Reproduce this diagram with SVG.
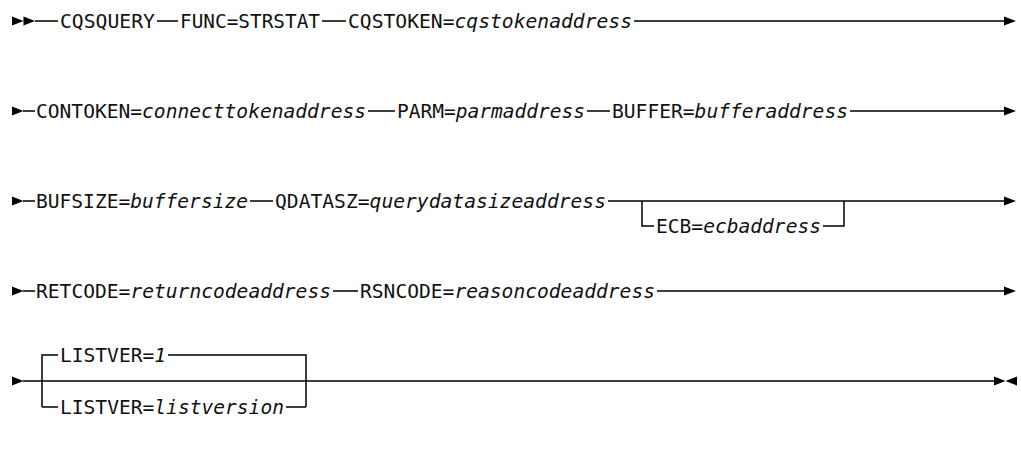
<svg xmlns="http://www.w3.org/2000/svg" width="1021" height="466" viewBox="0 0 1021 466">
<style>
.t{font-family:"DejaVu Sans Mono","Liberation Mono",monospace;font-size:19.6px;fill:#111}
.i{font-style:italic}
.l{stroke:#000;stroke-width:1.5;fill:none}
.a{fill:#000}
</style>
<rect width="1021" height="466" fill="#fff"/>
<g id="connectors">
<path class="l" d="M35 21H58M157 21H178M322 21H346M634 21H1005"/>
<path class="l" d="M23 111H35M368 111H395M587 111H610M850 111H1005"/>
<path class="l" d="M23 201H35M250 201H273M608 201H1005M642 201V226H654M823 226H844V201"/>
<path class="l" d="M23 291H35M333 291H358M657 291H1005"/>
<path class="l" d="M23 381H995M42 407V355H58M168 355H306V407M42 407H58M286 407H306"/>
<path class="a" d="M12 16.5L23.5 21L12 25.5ZM23.5 16.5L35 21L23.5 25.5Z"/>
<path class="a" d="M1004 16.5L1016 21L1004 25.5Z"/>
<path class="a" d="M12 106.5L23.5 111L12 115.5Z"/>
<path class="a" d="M1004 106.5L1016 111L1004 115.5Z"/>
<path class="a" d="M12 196.5L23.5 201L12 205.5Z"/>
<path class="a" d="M1004 196.5L1016 201L1004 205.5Z"/>
<path class="a" d="M12 286.5L23.5 291L12 295.5Z"/>
<path class="a" d="M1004 286.5L1016 291L1004 295.5Z"/>
<path class="a" d="M12 376.5L23.5 381L12 385.5Z"/>
<path class="a" d="M994 376.5L1005.5 381L994 385.5ZM1017 376.5L1005.5 381L1017 385.5Z"/>
</g>
<g id="n-cqsquery"><text class="t" x="60" y="28" textLength="95" lengthAdjust="spacingAndGlyphs">CQSQUERY</text></g>
<g id="n-func"><text class="t" x="180" y="28" textLength="140" lengthAdjust="spacingAndGlyphs">FUNC=STRSTAT</text></g>
<g id="n-cqstoken"><text class="t" x="348" y="28" textLength="284" lengthAdjust="spacingAndGlyphs">CQSTOKEN=<tspan class="i">cqstokenaddress</tspan></text></g>
<g id="n-contoken"><text class="t" x="36" y="118" textLength="330" lengthAdjust="spacingAndGlyphs">CONTOKEN=<tspan class="i">connecttokenaddress</tspan></text></g>
<g id="n-parm"><text class="t" x="397" y="118" textLength="188" lengthAdjust="spacingAndGlyphs">PARM=<tspan class="i">parmaddress</tspan></text></g>
<g id="n-buffer"><text class="t" x="612" y="118" textLength="236" lengthAdjust="spacingAndGlyphs">BUFFER=<tspan class="i">bufferaddress</tspan></text></g>
<g id="n-bufsize"><text class="t" x="36" y="208" textLength="212" lengthAdjust="spacingAndGlyphs">BUFSIZE=<tspan class="i">buffersize</tspan></text></g>
<g id="n-qdatasz"><text class="t" x="275" y="208" textLength="331" lengthAdjust="spacingAndGlyphs">QDATASZ=<tspan class="i">querydatasizeaddress</tspan></text></g>
<g id="n-ecb"><text class="t" x="656" y="233" textLength="165" lengthAdjust="spacingAndGlyphs">ECB=<tspan class="i">ecbaddress</tspan></text></g>
<g id="n-retcode"><text class="t" x="36" y="298" textLength="295" lengthAdjust="spacingAndGlyphs">RETCODE=<tspan class="i">returncodeaddress</tspan></text></g>
<g id="n-rsncode"><text class="t" x="360" y="298" textLength="295" lengthAdjust="spacingAndGlyphs">RSNCODE=<tspan class="i">reasoncodeaddress</tspan></text></g>
<g id="n-listver1"><text class="t" x="60" y="362" textLength="106" lengthAdjust="spacingAndGlyphs">LISTVER=<tspan class="i">1</tspan></text></g>
<g id="n-listver"><text class="t" x="60" y="414" textLength="224" lengthAdjust="spacingAndGlyphs">LISTVER=<tspan class="i">listversion</tspan></text></g>
</svg>
